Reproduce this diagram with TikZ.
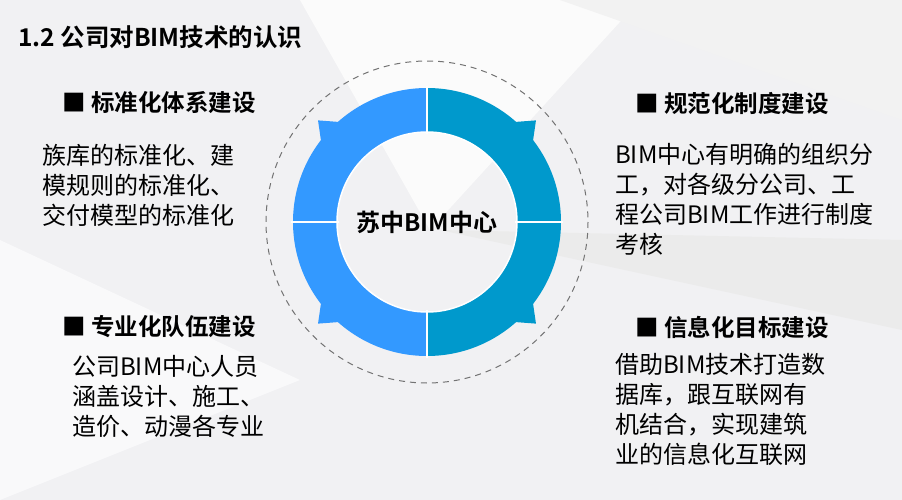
\documentclass[tikz,border=0pt]{standalone}
\usepackage{fontspec}
\setmainfont{Noto Sans CJK SC}
\newfontfamily\boldcjk{Noto Sans CJK SC Bold}
\usetikzlibrary{positioning,calc}
\definecolor{BlueL}{HTML}{3399FF}
\definecolor{BlueR}{HTML}{0099CC}
\definecolor{BackG}{HTML}{F1F1F3}
\begin{document}
\begin{tikzpicture}[
		x=1pt, y=-1pt,
		every node/.style={inner sep=0pt, font=\fontsize{24}{30}\selectfont},
		head/.style={anchor=west, font=\boldcjk\fontsize{23.5}{30}\selectfont},
		body/.style={anchor=north west, align=left},
		seg/.style={draw=white, line width=1.5pt}
	]
	% background
	\fill[BackG] (0,0) rectangle (902,500);
	\fill[white!70!BackG] (300,0) -- (640,0) -- (430,230) -- cycle;
	\fill[black!8] (440,230) -- (902,240) -- (902,330) -- cycle;
	\fill[white!60!BackG] (0,240) -- (300,380) -- (0,500) -- cycle;
	\fill[black!5] (560,0) -- (902,0) -- (902,120) -- cycle;
	\useasboundingbox (0,0) rectangle (902,500);

	% ring
	\coordinate (c) at (427,222);
	\foreach \a/\col in {90/BlueL,180/BlueL,0/BlueR,-90/BlueR}{
		\fill[\col] ($(c)+(\a:134)$) arc[start angle=\a, end angle=\a+90, radius=134]
			-- ($(c)+(\a+90:90)$) arc[start angle=\a+90, end angle=\a, radius=90] -- cycle;
	}
	\foreach \a/\col in {137/BlueL,223/BlueL,43/BlueR,-43/BlueR}{
		\fill[\col] ($(c)+(\a-8:128)$) -- ($(c)+(\a:149)$) -- ($(c)+(\a+8:128)$) -- cycle;
	}
	\foreach \a in {0,90,180,270}
		\draw[seg] ($(c)+(\a:88)$) -- ($(c)+(\a:136)$);
	\draw[seg] (c) circle[radius=90];
	\draw[black!55, line width=1pt, dash pattern=on 6pt off 5pt] (c) circle[radius=161];
	\node(center)[font=\boldcjk\fontsize{24}{30}\selectfont] at (c) {苏中BIM中心};

	% title
	\node(title)[anchor=west, font=\boldcjk\fontsize{24.5}{30}\selectfont] at (18,37) {1.2 公司对BIM技术的认识};

	% four blocks
	\node(h1)[head] at (62,103) {■ 标准化体系建设};
	\node(b1)[body] at (42,144) {族库的标准化、建\\模规则的标准化、\\交付模型的标准化};
	\node(h2)[head] at (635,103) {■ 规范化制度建设};
	\node(b2)[body] at (615,143) {BIM中心有明确的组织分\\工，对各级分公司、工\\程公司BIM工作进行制度\\考核};
	\node(h3)[head] at (62,327) {■ 专业化队伍建设};
	\node(b3)[body] at (72,355) {公司BIM中心人员\\涵盖设计、施工、\\造价、动漫各专业};
	\node(h4)[head] at (635,327) {■ 信息化目标建设};
	\node(b4)[body] at (615,353) {借助BIM技术打造数\\据库，跟互联网有\\机结合，实现建筑\\业的信息化互联网};
\end{tikzpicture}
\end{document}
